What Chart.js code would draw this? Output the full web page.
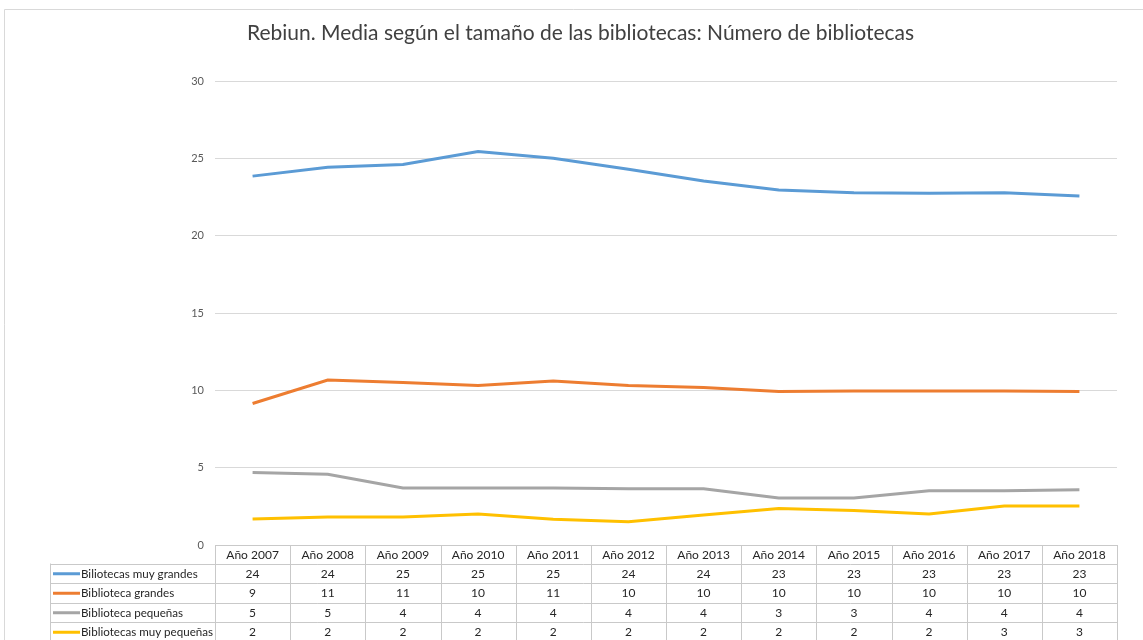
<!DOCTYPE html>
<html>
<head>
<meta charset="utf-8">
<script src="https://cdn.jsdelivr.net/npm/chart.js@4.4.0/dist/chart.umd.min.js"></script>
<style>
    html, body { margin: 0; padding: 0; background: #fff; }
    #wrap { position: relative; width: 1143px; height: 640px; }
</style>
</head>
<body>
<div id="wrap"><canvas id="lineChart" width="1143" height="640"></canvas></div>
<script>
const years = ['Año 2007', 'Año 2008', 'Año 2009', 'Año 2010', 'Año 2011', 'Año 2012',
    'Año 2013', 'Año 2014', 'Año 2015', 'Año 2016', 'Año 2017', 'Año 2018'];

const seriesNames = ['Biliotecas muy grandes', 'Biblioteca grandes', 'Biblioteca pequeñas', 'Bibliotecas muy pequeñas'];
const seriesColors = ['#5B9BD5', '#ED7D31', '#A5A5A5', '#FFC000'];

const muyGrandes = [23.85, 24.43, 24.6, 25.44, 25.0, 24.3, 23.53, 22.95, 22.77, 22.74, 22.77, 22.57];
const grandes = [9.15, 10.67, 10.5, 10.31, 10.6, 10.31, 10.18, 9.93, 9.96, 9.96, 9.96, 9.93];
const pequenas = [4.69, 4.57, 3.69, 3.69, 3.69, 3.63, 3.63, 3.04, 3.04, 3.5, 3.5, 3.57];
const muyPequenas = [1.68, 1.81, 1.81, 2.0, 1.66, 1.5, 1.94, 2.36, 2.23, 2.0, 2.52, 2.52];

const yTicks = [0, 5, 10, 15, 20, 25, 30];
const allSeries = [muyGrandes, grandes, pequenas, muyPequenas];

const FONT = 'Lato, "Open Sans", sans-serif';

// draws the outer frame and the data table under the axis
const dataTable = {
    id: 'dataTable',
    beforeDraw(chart) {
        const ctx = chart.ctx;
        ctx.save();
        ctx.strokeStyle = '#d9d9d9';
        ctx.lineWidth = 1;
        ctx.beginPath();
        ctx.moveTo(4.5, 640);
        ctx.lineTo(4.5, 9.5);
        ctx.lineTo(1143, 9.5);
        ctx.stroke();
        ctx.restore();
    },
    afterDraw(chart) {
        const ctx = chart.ctx;
        const x = chart.scales.x;
        const area = chart.chartArea;
        const colW = (area.right - area.left) / years.length;
        const top = area.bottom;
        const headH = 18.5;
        const rowH = 19.5;
        const labelLeft = 50.5;

        ctx.save();
        ctx.strokeStyle = '#c9c9c9';
        ctx.lineWidth = 1;
        ctx.beginPath();
        // header top line / axis line
        ctx.moveTo(area.left, top + 0.5);
        ctx.lineTo(area.right, top + 0.5);
        // row lines
        for (let r = 0; r <= seriesNames.length; r++) {
            const y = Math.round(top + headH + r * rowH) + 0.5;
            ctx.moveTo(labelLeft, y);
            ctx.lineTo(area.right, y);
        }
        // column lines
        for (let c = 0; c <= years.length; c++) {
            const xx = Math.round(area.left + c * colW) + 0.5;
            ctx.moveTo(xx, top);
            ctx.lineTo(xx, 640);
        }
        ctx.moveTo(labelLeft, top + headH);
        ctx.lineTo(labelLeft, 640);
        ctx.stroke();

        ctx.font = '12px ' + FONT;
        ctx.fillStyle = '#262626';
        ctx.textAlign = 'center';
        ctx.textBaseline = 'middle';
        years.forEach((yr, i) => {
            ctx.fillText(yr, x.getPixelForValue(i), top + headH / 2 + 0.5);
        });

        allSeries.forEach((vals, r) => {
            const cy = top + headH + r * rowH + rowH / 2 + 0.5;
            ctx.strokeStyle = seriesColors[r];
            ctx.lineWidth = 3;
            ctx.beginPath();
            ctx.moveTo(53, cy);
            ctx.lineTo(80, cy);
            ctx.stroke();
            ctx.textAlign = 'left';
            ctx.font = '11.6px ' + FONT;
            ctx.fillText(seriesNames[r], 81, cy);
            ctx.font = '12px ' + FONT;
            ctx.textAlign = 'center';
            vals.forEach((v, i) => {
                ctx.fillText(Math.round(v), x.getPixelForValue(i), cy);
            });
        });
        ctx.restore();
    }
};

const lineChartCtx = document.getElementById('lineChart').getContext('2d');

const lineChart = new Chart(lineChartCtx, {
    type: 'line',
    data: {
        labels: years,
        datasets: seriesNames.map((name, i) => ({
            label: name,
            data: allSeries[i],
            borderColor: seriesColors[i],
            backgroundColor: seriesColors[i],
            borderWidth: 3,
            pointRadius: 0,
            tension: 0,
            fill: false,
        })),
    },
    options: {
        responsive: false,
        animation: false,
        events: [],
        layout: {
            padding: { left: 44, right: 26, top: 0, bottom: 0 },
        },
        plugins: {
            legend: { display: false },
            tooltip: { enabled: false },
            title: {
                display: true,
                text: 'Rebiun. Media según el tamaño de las bibliotecas: Número de bibliotecas',
                color: '#404040',
                font: { family: FONT, size: 21, weight: 'normal' },
                padding: { top: 21, bottom: 34.8 },
            },
        },
        scales: {
            x: {
                offset: true,
                grid: { display: false, drawTicks: false },
                border: { display: false },
                ticks: { display: false },
                afterFit(scale) { scale.height = 95; },
            },
            y: {
                min: 0,
                max: 30,
                afterBuildTicks(scale) { scale.ticks = yTicks.map(v => ({ value: v })); },
                grid: { color: '#d9d9d9', drawTicks: false, lineWidth: 1 },
                border: { display: false },
                ticks: {
                    color: '#595959',
                    font: { family: FONT, size: 11 },
                    padding: 11,
                },
                afterFit(scale) { scale.width = 171; },
            },
        },
    },
    plugins: [dataTable],
});
</script>
</body>
</html>
